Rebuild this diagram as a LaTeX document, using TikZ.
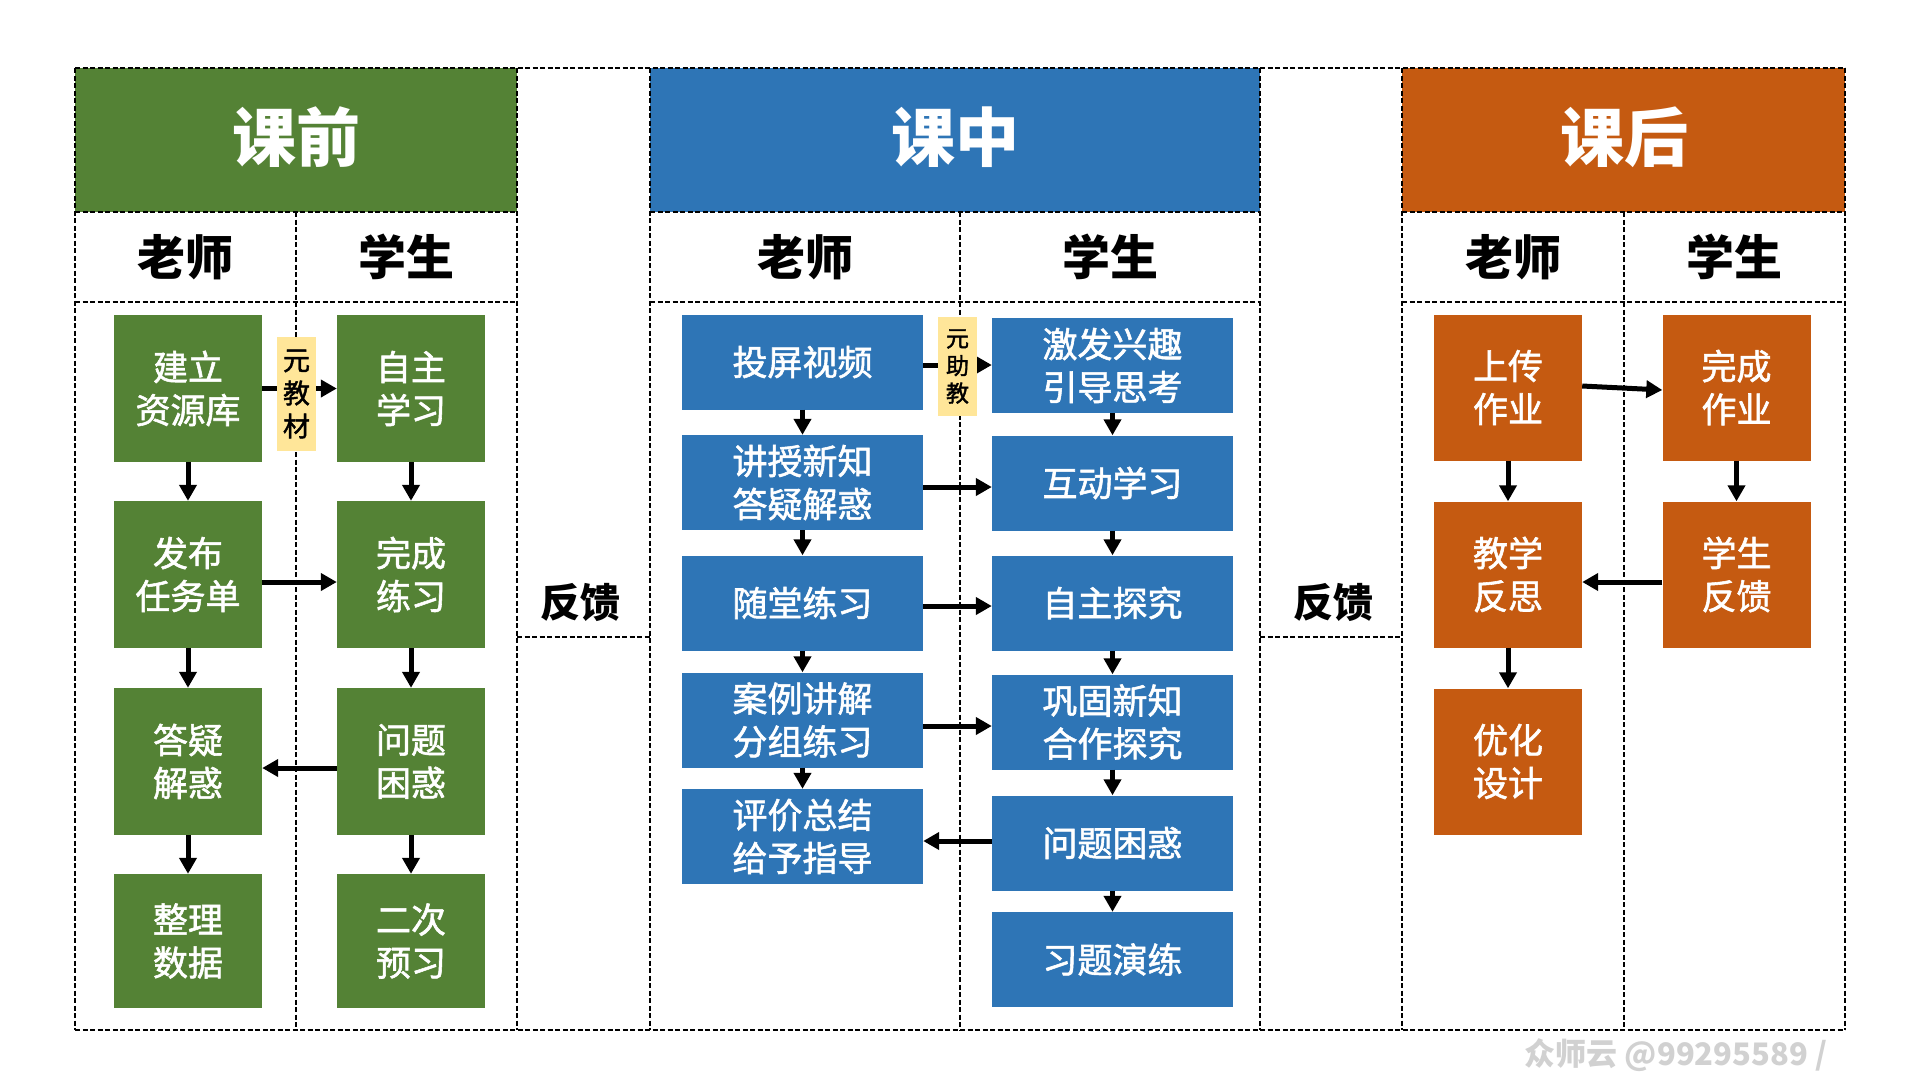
\documentclass[tikz,border=0pt]{standalone}
\usepackage{fontspec}
\newfontfamily\cjk{Noto Sans CJK SC}
\newfontfamily\cjkm{Noto Sans CJK SC}[FakeBold=1.6]
\usetikzlibrary{arrows.meta}
\definecolor{cgreen}{HTML}{548235}
\definecolor{cblue}{HTML}{2E75B6}
\definecolor{corange}{HTML}{C55A11}
\definecolor{ctag}{HTML}{FFE699}
\begin{document}
\begin{tikzpicture}[x=1pt,y=-1pt,
  dsh/.style={line width=1.4pt, dash pattern=on 5pt off 2.5pt},
  box/.style={rectangle, inner sep=0pt, text=white, align=center, font=\cjkm\fontsize{35}{43}\selectfont},
  gbox/.style={box, fill=cgreen, minimum width=148pt, minimum height=147pt},
  gboxs/.style={box, fill=cgreen, minimum width=148pt, minimum height=134pt},
  bbox/.style={box, fill=cblue, minimum width=241pt, minimum height=95pt},
  obox/.style={box, fill=corange, minimum width=148pt, minimum height=146pt},
  tagbox/.style={rectangle, inner sep=0pt, fill=ctag, align=center},
  hdr/.style={text=white, font=\cjk\bfseries\fontsize{64}{64}\selectfont},
  role/.style={text=black, font=\cjk\bfseries\fontsize{48}{48}\selectfont},
  fb/.style={text=black, font=\cjk\bfseries\fontsize{40}{40}\selectfont},
  arr/.style={line width=5pt, -{Triangle[length=16pt,width=17pt]}},
]
\useasboundingbox (0,0) rectangle (1920,1080);
\fill[white] (0,0) rectangle (1920,1080);

% header fills
\fill[cgreen] (75,68) rectangle (517,212);
\fill[cblue] (650,68) rectangle (1260,212);
\fill[corange] (1402,68) rectangle (1845,212);

% dashed grid
\draw[dsh] (75,68) -- (1845,68);
\draw[dsh] (75,1030) -- (1845,1030);
\foreach \x in {75,517,650,1260,1402,1845} \draw[dsh] (\x,68) -- (\x,1030);
\foreach \y in {212,302} {
  \draw[dsh] (75,\y) -- (517,\y);
  \draw[dsh] (650,\y) -- (1260,\y);
  \draw[dsh] (1402,\y) -- (1845,\y);
}
\foreach \x in {296,960,1624} \draw[dsh] (\x,212) -- (\x,1030);
\draw[dsh] (517,637) -- (650,637);
\draw[dsh] (1260,637) -- (1402,637);

% headers
\node[hdr] (h1) at (296,137) {课前};
\node[hdr] (h2) at (955,137) {课中};
\node[hdr] (h3) at (1624,137) {课后};
\node[role] (r1) at (185.5,257) {老师};
\node[role] (r2) at (406.5,257) {学生};
\node[role] (r3) at (805,257) {老师};
\node[role] (r4) at (1110,257) {学生};
\node[role] (r5) at (1513,257) {老师};
\node[role] (r6) at (1734.5,257) {学生};
\node[fb] (fb1) at (580,602) {反馈};
\node[fb] (fb2) at (1333,602) {反馈};

% 课前 boxes
\node[gbox] (a1) at (188,388.5) {建立\\资源库};
\node[gbox] (a2) at (188,574.5) {发布\\任务单};
\node[gbox] (a3) at (188,761.5) {答疑\\解惑};
\node[gboxs] (a4) at (188,941) {整理\\数据};
\node[gbox] (b1) at (411,388.5) {自主\\学习};
\node[gbox] (b2) at (411,574.5) {完成\\练习};
\node[gbox] (b3) at (411,761.5) {问题\\困惑};
\node[gboxs] (b4) at (411,941) {二次\\预习};

% 课中 boxes
\node[bbox] (c1) at (802.5,362) {投屏视频};
\node[bbox] (c2) at (802.5,482.5) {讲授新知\\答疑解惑};
\node[bbox] (c3) at (802.5,603) {随堂练习};
\node[bbox] (c4) at (802.5,720) {案例讲解\\分组练习};
\node[bbox] (c5) at (802.5,836.5) {评价总结\\给予指导};
\node[bbox] (d1) at (1112.5,365.5) {激发兴趣\\引导思考};
\node[bbox] (d2) at (1112.5,483) {互动学习};
\node[bbox] (d3) at (1112.5,603) {自主探究};
\node[bbox] (d4) at (1112.5,722) {巩固新知\\合作探究};
\node[bbox] (d5) at (1112.5,843) {问题困惑};
\node[bbox] (d6) at (1112.5,959.5) {习题演练};

% 课后 boxes
\node[obox] (e1) at (1508,387.5) {上传\\作业};
\node[obox] (e2) at (1508,574.5) {教学\\反思};
\node[obox] (e3) at (1508,761.5) {优化\\设计};
\node[obox] (f1) at (1736.5,387.5) {完成\\作业};
\node[obox] (f2) at (1736.5,574.5) {学生\\反馈};

% helper heights
\coordinate (y1) at (0,582);
\coordinate (y2) at (0,768);
\coordinate (y3) at (0,365);
\coordinate (y4) at (0,487);
\coordinate (y5) at (0,606);
\coordinate (y6) at (0,726);
\coordinate (y7) at (0,841);
\coordinate (y8) at (0,386);
\coordinate (y9) at (0,390);

% 课前 arrows
\draw[arr] (a1) -- (a2);
\draw[arr] (a2) -- (a3);
\draw[arr] (a3) -- (a4);
\draw[arr] (b1) -- (b2);
\draw[arr] (b2) -- (b3);
\draw[arr] (b3) -- (b4);
\draw[arr] (a1.east) -- (b1.west);
\draw[arr] (a2.east |- y1) -- (b2.west |- y1);
\draw[arr] (b3.west |- y2) -- (a3.east |- y2);

% 课中 arrows
\draw[arr] (c1) -- (c2);
\draw[arr] (c2) -- (c3);
\draw[arr] (c3) -- (c4);
\draw[arr] (c4) -- (c5);
\draw[arr] (d1) -- (d2);
\draw[arr] (d2) -- (d3);
\draw[arr] (d3) -- (d4);
\draw[arr] (d4) -- (d5);
\draw[arr] (d5) -- (d6);
\draw[arr] (c1.east |- y3) -- (d1.west |- y3);
\draw[arr] (c2.east |- y4) -- (d2.west |- y4);
\draw[arr] (c3.east |- y5) -- (d3.west |- y5);
\draw[arr] (c4.east |- y6) -- (d4.west |- y6);
\draw[arr] (d5.west |- y7) -- (c5.east |- y7);

% 课后 arrows
\draw[arr] (e1) -- (e2);
\draw[arr] (e2) -- (e3);
\draw[arr] (f1) -- (f2);
\draw[arr] (e1.east |- y8) -- (f1.west |- y9);
\draw[arr] (f2.west |- y1) -- (e2.east |- y1);

% tags
\node[tagbox, minimum width=39pt, minimum height=114pt, font=\cjkm\fontsize{27}{33}\selectfont] (t1) at (296.5,394) {元\\教\\材};
\node[tagbox, minimum width=39pt, minimum height=99pt, font=\cjkm\fontsize{23}{27.5}\selectfont] (t2) at (957.5,366.5) {元\\助\\教};

% watermark
\node[text=black!18, font=\cjk\bfseries\fontsize{31}{31}\selectfont] (wm) at (1676,1055) {众师云 @99295589 /};
\end{tikzpicture}
\end{document}
